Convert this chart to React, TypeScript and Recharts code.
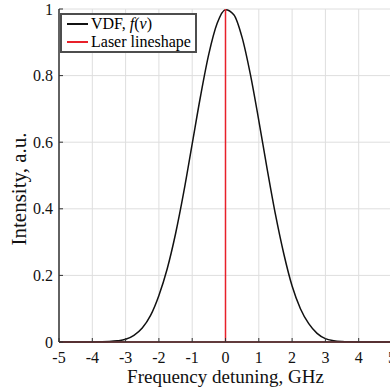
import React from 'react';
import { LineChart, Line, XAxis, YAxis, CartesianGrid, Legend } from 'recharts';

const FONT = '"Liberation Serif", "DejaVu Serif", serif';

// frequency detuning grid, GHz
const freq = [
  -5, -4.75, -4.5, -4.25, -4, -3.75, -3.5, -3.25, -3, -2.75, -2.5, -2.25, -2, -1.75, -1.5, -1.25, -1,
  -0.75, -0.5, -0.25, 0, 0.25, 0.5, 0.75, 1, 1.25, 1.5, 1.75, 2, 2.25, 2.5, 2.75, 3, 3.25, 3.5, 3.75,
  4, 4.25, 4.5, 4.75, 5,
];
// VDF, f(nu)
const vdf = [
  0, 0, 0, 0.0001, 0.0003, 0.0007, 0.0015, 0.0035, 0.008, 0.02, 0.042, 0.08, 0.14, 0.22, 0.325, 0.452,
  0.595, 0.738, 0.865, 0.957, 0.998, 0.983, 0.914, 0.802, 0.665, 0.52, 0.383, 0.265, 0.168, 0.1, 0.055,
  0.026, 0.01, 0.004, 0.0015, 0.0006, 0.0002, 0.0001, 0, 0, 0,
];
// laser lineshape: a delta at zero detuning
const laserFreq = [-5, 0, 0, 0, 5];
const laserLevel = [0, 0, 1, 0, 0];

const xTicks = [-5, -4, -3, -2, -1, 0, 1, 2, 3, 4, 5];
const yTicks = [0, 0.2, 0.4, 0.6, 0.8, 1];

const vdfData = freq.map((x, i) => ({ x, y: vdf[i] }));
const laserData = laserFreq.map((x, i) => ({ x, y: laserLevel[i] }));

const AXIS = '#333333';

const XTick = (props: any) => (
  <text x={props.x} y={props.y} dy="0.7em" textAnchor="middle" fontSize={16} fontFamily={FONT} fill="#111">
    {props.payload.value}
  </text>
);

const YTick = (props: any) => (
  <text x={props.x} y={props.y} dy="0.35em" textAnchor="end" fontSize={16} fontFamily={FONT} fill="#111">
    {props.payload.value}
  </text>
);

function LegendBox() {
  const row = (color: string, label: React.ReactNode) => (
    <div style={{ display: 'flex', alignItems: 'center', height: 18 }}>
      <span style={{ display: 'inline-block', width: 21, height: 1.5, background: color, marginRight: 3 }} />
      <span>{label}</span>
    </div>
  );
  return (
    <div
      style={{
        border: '2px solid #4d4d4d',
        background: '#fff',
        padding: '0px 4px 0px 5px',
        fontFamily: FONT,
        fontSize: 16,
        color: '#000',
        whiteSpace: 'nowrap',
        lineHeight: '18px',
        textAlign: 'left',
      }}
    >
      {row('#111', <>VDF, <i>f</i>(<i>ν</i>)</>)}
      {row('#e8202a', 'Laser lineshape')}
    </div>
  );
}

export default function App() {
  return (
    <div
      style={{
        position: 'absolute',
        left: 0,
        top: 0,
        width: 390,
        height: 389,
        overflow: 'hidden',
        background: '#fff',
        fontFamily: FONT,
      }}
    >
      <LineChart width={400} height={389} margin={{ top: 9, right: 8, bottom: 0, left: 0 }}>
        <CartesianGrid stroke="#dedede" strokeWidth={1} />
        <XAxis
          dataKey="x"
          type="number"
          domain={[-5, 5]}
          ticks={xTicks}
          interval={0}
          height={47}
          tickSize={-4}
          tickMargin={14}
          tick={<XTick />}
          axisLine={{ stroke: AXIS, strokeWidth: 1.5 }}
          tickLine={{ stroke: AXIS }}
          label={(props: any) => {
            const vb = props.viewBox;
            return (
              <text x={vb.x + vb.width / 2} y={vb.y + 41} textAnchor="middle" fontSize={19} fontFamily={FONT} fill="#111">
                Frequency detuning, GHz
              </text>
            );
          }}
        />
        <XAxis
          xAxisId="top"
          orientation="top"
          type="number"
          domain={[-5, 5]}
          ticks={xTicks}
          interval={0}
          height={0}
          tickSize={-3}
          tick={() => <g />}
          axisLine={{ stroke: '#555', strokeWidth: 2 }}
          tickLine={{ stroke: AXIS }}
        />
        <YAxis
          type="number"
          domain={[0, 1]}
          ticks={yTicks}
          interval={0}
          width={59}
          tickSize={-4}
          tickMargin={10}
          tick={<YTick />}
          axisLine={{ stroke: AXIS, strokeWidth: 1.5 }}
          tickLine={{ stroke: AXIS }}
          label={() => {
            const cx = 19;
            const cy = 189;
            return (
              <text
                x={cx}
                y={cy}
                transform={`rotate(-90 ${cx} ${cy})`}
                textAnchor="middle"
                dominantBaseline="central"
                fontSize={21}
                fontFamily={FONT}
                fill="#111"
              >
                Intensity, a.u.
              </text>
            );
          }}
        />
        <YAxis
          yAxisId="right"
          orientation="right"
          type="number"
          domain={[0, 1]}
          ticks={yTicks}
          interval={0}
          width={0}
          tickSize={-4}
          tick={() => <g />}
          axisLine={{ stroke: AXIS, strokeWidth: 1.5 }}
          tickLine={{ stroke: AXIS }}
        />
        <Legend
          layout="horizontal"
          verticalAlign="middle"
          align="center"
          content={() => <LegendBox />}
          wrapperStyle={{ left: 60, top: 13, width: 'auto' }}
        />
        <Line
          data={vdfData}
          dataKey="y"
          type="monotone"
          stroke="#111"
          strokeWidth={1.5}
          dot={false}
          activeDot={false}
          isAnimationActive={false}
        />
        <Line
          data={laserData}
          dataKey="y"
          type="linear"
          stroke="#e8202a"
          strokeWidth={1.5}
          dot={false}
          activeDot={false}
          isAnimationActive={false}
        />
      </LineChart>
    </div>
  );
}
